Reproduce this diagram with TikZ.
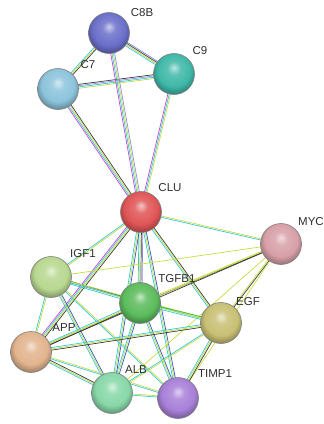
\documentclass[tikz,border=0pt]{standalone}
\usepackage{fontspec}
\setmainfont{Liberation Sans}
\usetikzlibrary{calc}

\pgfdeclarelayer{background}
\pgfsetlayers{background,main}

% ball colours
\definecolor{C8Bcol}{HTML}{6B6FC9}
\definecolor{C7col}{HTML}{8CC4DC}
\definecolor{C9col}{HTML}{3FB8A8}
\definecolor{CLUcol}{HTML}{E05555}
\definecolor{MYCcol}{HTML}{D8A0A8}
\definecolor{IGFcol}{HTML}{B8D890}
\definecolor{TGFcol}{HTML}{5CBC5C}
\definecolor{EGFcol}{HTML}{C8C074}
\definecolor{APPcol}{HTML}{E2B48E}
\definecolor{ALBcol}{HTML}{88D8A8}
\definecolor{TIMPcol}{HTML}{A880D8}
% evidence line colours
\definecolor{dbline}{HTML}{33C8DD}
\definecolor{exline}{HTML}{CC44CC}
\definecolor{txline}{HTML}{C8DC40}
\definecolor{coline}{HTML}{3A3A3A}
\definecolor{holine}{HTML}{8C8CE0}
\definecolor{nbline}{HTML}{44B844}
\definecolor{ocline}{HTML}{3355CC}

\pgfdeclareradialshading[genecolor]{geneball}{\pgfpoint{0bp}{8bp}}{%
  color(0bp)=(genecolor!35!white); color(8bp)=(genecolor!85!white);
  color(20bp)=(genecolor); color(27bp)=(genecolor!75!black);
  color(50bp)=(genecolor!50!black)}

\tikzset{
  genecol/.code={\colorlet{genecolor}{#1}},
  gene/.style={circle, minimum size=41pt, inner sep=0pt, draw=black!50,
    line width=0.6pt, shade, shading=geneball, genecol=#1},
  genelabel/.style={text=black!82, font=\fontsize{11.5}{13}\selectfont, inner sep=0pt},
  edgeline/.style={line width=0.7pt},
}

% one line per evidence colour, side by side
\newcommand{\geneedge}[3]{%
  \foreach \c [count=\n] in {#3}{\xdef\edgecount{\n}}%
  \foreach \c [count=\i] in {#3}{%
    \pgfmathsetmacro\edgeshift{(\i-(\edgecount+1)/2)*1.3}%
    \draw[edgeline, \c] ($(#1)!\edgeshift pt!90:(#2)$) -- ($(#2)!\edgeshift pt!-90:(#1)$);
  }}

\begin{document}
\begin{tikzpicture}[x=1pt, y=-1pt]
  \useasboundingbox (0,0) rectangle (324,424);

  % proteins
  \node[gene=C8Bcol] (C8B) at (109,33) {};
  \node[gene=C7col] (C7) at (58,89) {};
  \node[gene=C9col] (C9) at (174,74) {};
  \node[gene=CLUcol] (CLU) at (141,212) {};
  \node[gene=MYCcol] (MYC) at (281,244) {};
  \node[gene=IGFcol] (IGF1) at (51,277) {};
  \node[gene=TGFcol] (TGFB1) at (140,303) {};
  \node[gene=EGFcol] (EGF) at (221,323) {};
  \node[gene=APPcol] (APP) at (31,352) {};
  \node[gene=ALBcol] (ALB) at (112,393) {};
  \node[gene=TIMPcol] (TIMP1) at (178,398) {};

  % names
  \node[genelabel] (C8B-l) at (142,13) {C8B};
  \node[genelabel] (C7-l) at (88,65) {C7};
  \node[genelabel] (C9-l) at (200,51) {C9};
  \node[genelabel] (CLU-l) at (170,188) {CLU};
  \node[genelabel, anchor=west] (MYC-l) at (298,222) {MYC};
  \node[genelabel] (IGF1-l) at (83,254) {IGF1};
  \node[genelabel] (TGFB1-l) at (177,279) {TGFB1};
  \node[genelabel] (EGF-l) at (248,302) {EGF};
  \node[genelabel] (APP-l) at (64,328) {APP};
  \node[genelabel] (ALB-l) at (136,370) {ALB};
  \node[genelabel] (TIMP1-l) at (215,374) {TIMP1};

  % interactions
  \begin{pgfonlayer}{background}
    \geneedge{C8B}{C7}{dbline,txline,coline}
    \geneedge{C8B}{C9}{dbline,txline,coline,holine}
    \geneedge{C7}{C9}{txline,dbline,holine,coline}
    \geneedge{C7}{CLU}{exline,dbline,txline,coline}
    \geneedge{C8B}{CLU}{exline,dbline,txline,holine}
    \geneedge{C9}{CLU}{exline,dbline,txline}
    \geneedge{CLU}{MYC}{dbline,txline}
    \geneedge{CLU}{IGF1}{dbline,txline}
    \geneedge{CLU}{APP}{exline,dbline,txline,coline}
    \geneedge{CLU}{TGFB1}{dbline,txline,coline,holine}
    \geneedge{CLU}{EGF}{dbline,txline,coline}
    \geneedge{CLU}{ALB}{dbline,txline,ocline}
    \geneedge{CLU}{TIMP1}{dbline,txline,ocline}
    \geneedge{MYC}{IGF1}{txline}
    \geneedge{MYC}{TGFB1}{txline,coline}
    \geneedge{MYC}{APP}{txline,coline}
    \geneedge{MYC}{EGF}{txline,coline}
    \geneedge{MYC}{ALB}{txline}
    \geneedge{MYC}{TIMP1}{txline}
    \geneedge{IGF1}{TGFB1}{dbline,txline,coline}
    \geneedge{IGF1}{EGF}{dbline,txline}
    \geneedge{IGF1}{APP}{dbline,txline}
    \geneedge{IGF1}{ALB}{dbline,txline,ocline}
    \geneedge{IGF1}{TIMP1}{dbline,txline}
    \geneedge{TGFB1}{EGF}{dbline,txline,nbline}
    \geneedge{TGFB1}{APP}{dbline,txline,coline}
    \geneedge{TGFB1}{ALB}{dbline,txline,ocline}
    \geneedge{TGFB1}{TIMP1}{dbline,txline,ocline}
    \geneedge{EGF}{APP}{dbline,txline,coline}
    \geneedge{EGF}{ALB}{dbline,txline}
    \geneedge{EGF}{TIMP1}{dbline,txline,coline}
    \geneedge{APP}{ALB}{dbline,txline,coline}
    \geneedge{APP}{TIMP1}{dbline,txline}
    \geneedge{ALB}{TIMP1}{dbline,txline}
  \end{pgfonlayer}
\end{tikzpicture}
\end{document}
